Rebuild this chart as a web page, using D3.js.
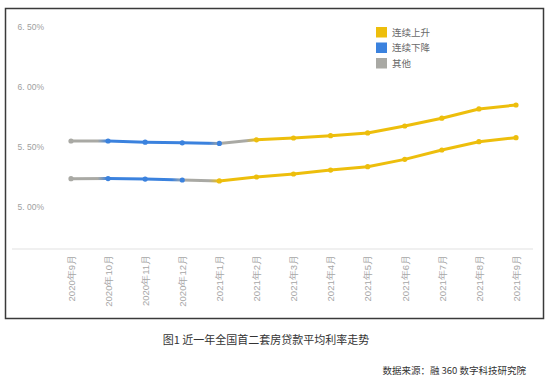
<!DOCTYPE html>
<html><head><meta charset="utf-8">
<script src="https://cdn.jsdelivr.net/npm/d3@7"></script>
<style>body{margin:0;background:#fff;}svg{display:block;font-family:"Noto Sans CJK SC","Noto Sans",sans-serif;}</style>
</head><body>
<svg id="c" width="554" height="390"></svg>
<script>
const months = ["2020年9月","2020年10月","2020年11月","2020年12月","2021年1月","2021年2月","2021年3月","2021年4月","2021年5月","2021年6月","2021年7月","2021年8月","2021年9月"];
const secondHome = [5.55,5.55,5.54,5.535,5.53,5.56,5.575,5.594,5.617,5.675,5.74,5.817,5.85];
const firstHome  = [5.236,5.237,5.233,5.225,5.217,5.25,5.275,5.308,5.336,5.397,5.475,5.544,5.578];
// trend category of each point and of each segment between points
const secondPointCat = ["other","down","down","down","down","up","up","up","up","up","up","up","up"];
const secondSegCat   = ["other","down","down","down","other","up","up","up","up","up","up","up"];
const firstPointCat  = ["other","down","down","down","up","up","up","up","up","up","up","up","up"];
const firstSegCat    = ["other","down","down","other","up","up","up","up","up","up","up","up"];
const yTicks = [5.0,5.5,6.0,6.5];
const legendKeys = ["up","down","other"];
const legendLabels = ["连续上升","连续下降","其他"];
const title = "图1 近一年全国首二套房贷款平均利率走势";
const source = "数据来源：融 360 数字科技研究院";

const colors = {up:"#EDBE0C", down:"#3B82DE", other:"#A9A9A4"};
const svg = d3.select("#c");

// frame
svg.append("rect").attr("x",5.5).attr("y",8.5).attr("width",538).attr("height",310)
  .attr("fill","none").attr("stroke","#3a3a3a").attr("stroke-width",1.5);

const x = d3.scalePoint().domain(months).range([71,516]);
const y = d3.scaleLinear().domain([5.0,6.5]).range([207,27]);

// y labels
const yAxis = d3.axisLeft(y).tickValues(yTicks).tickSize(0)
  .tickFormat(d => d3.format(".2f")(d).replace(".", ". ") + "%");
const gy = svg.append("g").attr("transform","translate(47,0)").call(yAxis);
gy.select(".domain").remove();
gy.selectAll("text").attr("fill","#a0a0a0").attr("font-size","8.5px").attr("dx",0)
  .attr("font-family","Liberation Sans, Arial, sans-serif");

// baseline
svg.append("line").attr("x1",12).attr("x2",533).attr("y1",249).attr("y2",249)
  .attr("stroke","#e2e2e2").attr("stroke-width",1.2);

// x labels
const xAxis = d3.axisBottom(x).tickSize(0);
const gx = svg.append("g").attr("transform","translate(0,255)").call(xAxis);
gx.select(".domain").remove();
gx.selectAll("text").attr("transform","rotate(-90)").attr("text-anchor","end")
  .attr("x",0).attr("y",0).attr("dy","0.35em").attr("dx",0)
  .attr("fill","#a6a6a6").attr("font-size","9.5px");

// lines
const defs = svg.append("defs");
let gid = 0;
function drawSeries(vals, segCat, ptCat){
  const g = svg.append("g");
  for(let i=0;i<vals.length-1;i++){
    const x1=x(months[i]), y1=y(vals[i]), x2=x(months[i+1]), y2=y(vals[i+1]);
    const c1 = colors[segCat[i]];
    const c2 = i+1<segCat.length ? colors[segCat[i+1]] : c1;
    const id = "grad"+(gid++);
    const gr = defs.append("linearGradient").attr("id",id).attr("gradientUnits","userSpaceOnUse")
      .attr("x1",x1).attr("y1",y1).attr("x2",x2).attr("y2",y2);
    gr.append("stop").attr("offset",0).attr("stop-color",c1);
    gr.append("stop").attr("offset",0.72).attr("stop-color",c1);
    gr.append("stop").attr("offset",1).attr("stop-color",c2);
    g.append("line").attr("x1",x1).attr("y1",y1).attr("x2",x2).attr("y2",y2)
      .attr("stroke","url(#"+id+")").attr("stroke-width",3).attr("stroke-linecap","round");
  }
  g.selectAll("circle").data(vals).join("circle")
    .attr("cx",(d,i)=>x(months[i])).attr("cy",d=>y(d)).attr("r",2.6)
    .attr("fill",(d,i)=>colors[ptCat[i]]);
}
drawSeries(secondHome, secondSegCat, secondPointCat);
drawSeries(firstHome, firstSegCat, firstPointCat);

// legend
const lg = svg.append("g").attr("transform","translate(376,27)");
legendKeys.forEach((k,i)=>{
  lg.append("rect").attr("x",0).attr("y",i*15.5).attr("width",11).attr("height",10.5).attr("fill",colors[k]);
  lg.append("text").attr("x",16).attr("y",i*15.5+5.5).attr("dy","0.35em")
    .attr("font-size","9.5px").attr("fill","#6a6a6a").text(legendLabels[i]);
});

// captions
svg.append("text").attr("x",266).attr("y",340).attr("dy","0.35em").attr("text-anchor","middle")
  .attr("font-size","11px").attr("fill","#333").text(title);
svg.append("text").attr("x",526).attr("y",371).attr("dy","0.35em").attr("text-anchor","end")
  .attr("font-size","9.5px").attr("fill","#333").text(source);
</script>
</body></html>
